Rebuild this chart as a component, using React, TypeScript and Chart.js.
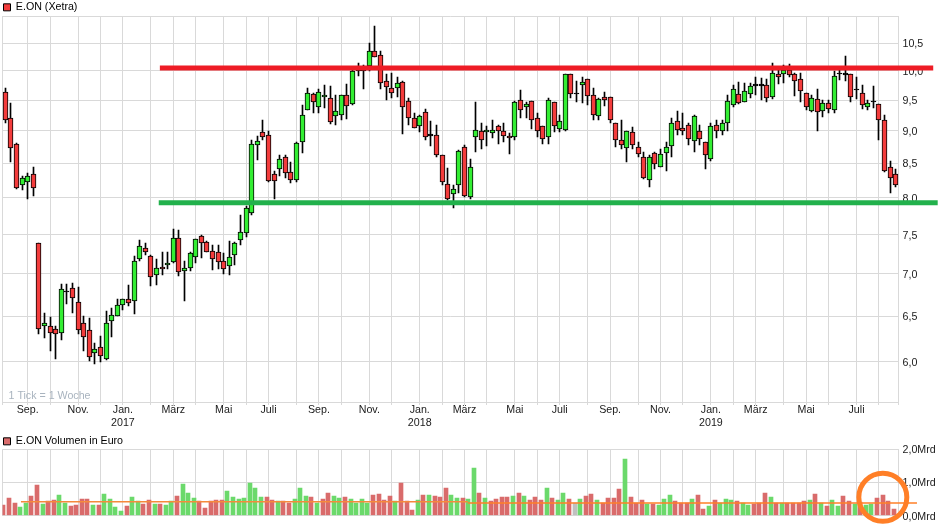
import { useEffect, useRef } from "react";
import { Chart, registerables } from "chart.js";

Chart.register(...registerables);

// weekly candles
const opens = [
  9.64, 9.21, 8.79, 8.18, 8.23, 8.34, 7.39, 6.39, 6.39, 6.36,
  6.31, 6.78, 6.83, 6.66, 6.42, 6.34, 6.09, 6.16, 6.03, 6.45,
  6.50, 6.63, 6.70, 6.68, 7.19, 7.32, 7.22, 6.99, 7.08, 7.11,
  7.15, 7.46, 7.03, 7.07, 7.21, 7.48, 7.40, 7.29, 7.27, 7.16,
  7.10, 7.24, 7.43, 7.52, 7.79, 8.78, 8.98, 8.93, 8.34, 8.41,
  8.59, 8.37, 8.26, 8.83, 9.33, 9.60, 9.39, 9.55, 9.53, 9.23,
  9.26, 9.58, 9.43, 10.00, 10.00, 10.09, 10.36, 10.29, 9.83, 9.70,
  9.70, 9.80, 9.48, 9.21, 9.08, 9.30, 8.92, 8.93, 8.62, 8.20,
  8.05, 8.18, 8.74, 8.01, 8.90, 8.99, 8.98, 8.96, 9.07, 8.99,
  8.92, 8.91, 9.50, 9.38, 9.48, 9.21, 9.08, 8.91, 9.46, 9.03,
  9.02, 9.95, 9.60, 9.76, 9.85, 9.58, 9.23, 9.55, 9.55, 9.12,
  8.86, 8.73, 8.98, 8.74, 8.59, 8.26, 8.65, 8.44, 8.65, 8.76,
  9.15, 9.05, 9.10, 8.84, 8.99, 8.82, 8.56, 9.10, 9.00, 9.12,
  9.41, 9.60, 9.46, 9.60, 9.74, 9.74, 9.75, 9.55, 9.94, 9.95,
  10.01, 9.94, 9.85, 9.61, 9.32, 9.51, 9.32, 9.45, 9.33, 9.94,
  9.93, 9.94, 9.66, 9.61, 9.38, 9.46, 9.43, 9.18, 8.44, 8.34,
];
const closes = [
  9.18, 8.73, 8.14, 8.28, 8.31, 8.14, 6.35, 6.42, 6.31, 6.30,
  6.82, 6.78, 6.71, 6.34, 6.27, 6.05, 6.13, 6.06, 6.42, 6.51,
  6.63, 6.70, 6.65, 7.16, 7.35, 7.27, 6.96, 7.07, 7.06, 7.14,
  7.46, 7.02, 7.07, 7.26, 7.44, 7.39, 7.27, 7.18, 7.15, 7.06,
  7.21, 7.39, 7.53, 7.86, 8.79, 8.84, 8.90, 8.24, 8.24, 8.56,
  8.35, 8.26, 8.81, 9.25, 9.61, 9.46, 9.63, 9.58, 9.14, 9.32,
  9.58, 9.40, 9.99, 10.00, 10.00, 10.36, 10.25, 9.79, 9.72, 9.61,
  9.79, 9.38, 9.21, 9.05, 9.23, 8.90, 8.92, 8.62, 8.23, 7.98,
  8.13, 8.68, 8.02, 8.44, 9.02, 8.86, 9.02, 9.02, 8.99, 8.92,
  8.88, 9.46, 9.33, 9.43, 9.17, 9.00, 8.87, 9.50, 9.08, 9.15,
  9.94, 9.60, 9.60, 9.80, 9.56, 9.25, 9.51, 9.50, 9.18, 8.86,
  8.78, 8.99, 8.78, 8.64, 8.29, 8.59, 8.49, 8.64, 8.74, 9.13,
  9.02, 9.00, 8.87, 9.23, 8.87, 8.62, 9.08, 9.00, 9.13, 9.48,
  9.68, 9.45, 9.65, 9.73, 9.74, 9.74, 9.53, 9.97, 9.90, 10.01,
  9.92, 9.83, 9.65, 9.38, 9.53, 9.30, 9.45, 9.35, 9.91, 9.94,
  9.93, 9.55, 9.66, 9.41, 9.45, 9.46, 9.18, 8.39, 8.29, 8.18,
];
const highs = [
  9.70, 9.45, 8.81, 8.32, 8.35, 8.44, 7.39, 6.53, 6.49, 6.39,
  6.88, 6.88, 6.89, 6.84, 6.50, 6.48, 6.20, 6.28, 6.56, 6.59,
  6.70, 6.70, 6.87, 7.22, 7.43, 7.39, 7.23, 7.19, 7.27, 7.28,
  7.58, 7.56, 7.16, 7.27, 7.44, 7.49, 7.41, 7.37, 7.37, 7.26,
  7.41, 7.40, 7.76, 7.89, 8.86, 8.92, 9.17, 9.00, 8.39, 8.63,
  8.63, 8.52, 8.83, 9.41, 9.71, 9.62, 9.68, 9.75, 9.74, 9.58,
  9.58, 9.77, 10.01, 10.13, 10.11, 10.50, 10.82, 10.36, 9.95, 9.97,
  9.89, 9.82, 9.53, 9.28, 9.26, 9.35, 9.15, 9.10, 8.62, 8.43,
  8.18, 8.70, 8.78, 8.56, 9.46, 9.13, 9.07, 9.17, 9.10, 9.13,
  8.97, 9.48, 9.67, 9.47, 9.48, 9.28, 9.08, 9.53, 9.46, 9.25,
  9.94, 9.95, 9.82, 9.89, 9.85, 9.71, 9.53, 9.63, 9.55, 9.12,
  9.17, 8.99, 9.06, 8.82, 8.67, 8.62, 8.67, 8.71, 8.82, 9.21,
  9.32, 9.28, 9.13, 9.26, 9.10, 8.82, 9.13, 9.18, 9.17, 9.58,
  9.75, 9.80, 9.79, 9.79, 9.89, 9.87, 9.85, 10.14, 10.01, 10.11,
  10.12, 9.96, 9.97, 9.61, 9.58, 9.68, 9.50, 9.50, 10.00, 10.01,
  10.26, 9.94, 9.89, 9.75, 9.50, 9.73, 9.43, 9.26, 8.54, 8.41,
];
const lows = [
  9.12, 8.52, 8.13, 8.11, 7.98, 8.03, 6.30, 6.26, 6.11, 6.03,
  6.23, 6.64, 6.54, 6.30, 6.11, 6.01, 5.98, 6.00, 6.02, 6.27,
  6.50, 6.57, 6.62, 6.52, 7.16, 7.23, 6.85, 6.87, 6.99, 7.06,
  7.14, 6.97, 6.68, 7.03, 7.13, 7.20, 7.27, 7.05, 7.06, 7.00,
  6.99, 7.11, 7.36, 7.47, 7.76, 8.55, 8.85, 8.23, 7.99, 8.32,
  8.29, 8.21, 8.23, 8.66, 9.33, 9.29, 9.28, 9.36, 9.11, 9.09,
  9.18, 9.19, 9.42, 9.91, 9.69, 10.00, 10.25, 9.69, 9.50, 9.53,
  9.55, 8.95, 9.09, 9.05, 8.98, 8.85, 8.77, 8.59, 8.19, 7.97,
  7.86, 8.07, 8.01, 7.99, 8.67, 8.71, 8.76, 8.89, 8.79, 8.83,
  8.64, 8.85, 9.21, 9.21, 9.03, 8.90, 8.79, 8.80, 8.98, 8.98,
  9.00, 9.54, 9.46, 9.45, 9.42, 9.18, 9.18, 9.40, 9.13, 8.74,
  8.71, 8.52, 8.72, 8.60, 8.27, 8.16, 8.42, 8.44, 8.39, 8.60,
  8.93, 8.93, 8.78, 8.67, 8.78, 8.41, 8.53, 8.88, 8.94, 8.99,
  9.38, 9.43, 9.46, 9.53, 9.58, 9.50, 9.47, 9.51, 9.77, 9.79,
  9.89, 9.57, 9.47, 9.33, 9.30, 9.00, 9.22, 9.28, 9.28, 9.84,
  9.82, 9.47, 9.51, 9.35, 9.33, 9.37, 8.85, 8.37, 8.07, 8.15,
];

// Mrd Euro per week
const volumes = [
  0.32, 0.52, 0.38, 0.26, 0.38, 0.58, 0.91, 0.35, 0.43, 0.47,
  0.61, 0.38, 0.29, 0.32, 0.50, 0.50, 0.32, 0.32, 0.64, 0.50,
  0.26, 0.14, 0.29, 0.55, 0.43, 0.35, 0.47, 0.35, 0.35, 0.32,
  0.43, 0.58, 0.94, 0.67, 0.52, 0.43, 0.23, 0.43, 0.47, 0.47,
  0.73, 0.55, 0.50, 0.52, 0.97, 0.82, 0.55, 0.55, 0.47, 0.43,
  0.43, 0.38, 0.50, 0.82, 0.58, 0.55, 0.38, 0.50, 0.67, 0.58,
  0.52, 0.55, 0.50, 0.38, 0.50, 0.38, 0.61, 0.64, 0.47, 0.58,
  0.43, 0.97, 0.43, 0.17, 0.47, 0.61, 0.61, 0.58, 0.55, 0.82,
  0.61, 0.52, 0.52, 0.50, 1.45, 0.67, 0.52, 0.44, 0.50, 0.55,
  0.55, 0.58, 0.67, 0.58, 0.47, 0.55, 0.47, 0.82, 0.52, 0.47,
  0.67, 0.50, 0.38, 0.50, 0.58, 0.64, 0.47, 0.38, 0.52, 0.52,
  0.79, 1.71, 0.55, 0.38, 0.47, 0.35, 0.35, 0.32, 0.50, 0.61,
  0.44, 0.38, 0.38, 0.50, 0.61, 0.20, 0.29, 0.47, 0.38, 0.50,
  0.47, 0.44, 0.38, 0.32, 0.35, 0.38, 0.67, 0.55, 0.38, 0.38,
  0.38, 0.38, 0.38, 0.44, 0.47, 0.64, 0.38, 0.29, 0.47, 0.29,
  0.58, 0.44, 0.35, 0.41, 0.32, 0.35, 0.52, 0.61, 0.44, 0.20,
];
// r = down week, g = up week, n = unchanged
const volumeDirections =
  "rrrggrrgrr" + "ggrrrrgrgg" + "ggrggrrgrg" + "grgggrrrrr" + "gggggggrrg" +
  "rrgggrgrrg" + "grggggrrrr" + "grrrgrgrrr" + "ggrggrgrrr" + "rgrgrrrgrg" +
  "grngrrgrrr" + "rgrrrgrggg" + "rrrgrrgrgg" + "grggrrrgrg" + "rrrrgrgrgg" +
  "rrgrggrrrr";

const monthWeeks = [
  4, 8, 13, 17, 21, 26, 30, 34, 39, 43, 47, 52, 56, 60, 65, 69, 74, 78, 82, 86, 91,
  95, 99, 104, 108, 113, 117, 121, 126, 130, 134, 139, 143, 147, 152, 156,
];
const labelWeeks = [4, 13, 21, 30, 39, 47, 56, 65, 74, 82, 91, 99, 108, 117, 126, 134, 143, 152];
const labelTexts = [
  ["Sep."], ["Nov."], ["Jan.", "2017"], ["März"], ["Mai"], ["Juli"],
  ["Sep."], ["Nov."], ["Jan.", "2018"], ["März"], ["Mai"], ["Juli"],
  ["Sep."], ["Nov."], ["Jan.", "2019"], ["März"], ["Mai"], ["Juli"],
];
const priceTicks = [6, 6.5, 7, 7.5, 8, 8.5, 9, 9.5, 10, 10.5];
const volumeTicks = [0, 1, 2];

// hand drawn lines on top of the chart, x in weeks
const resistancePrice = 10.05;
const resistanceWeeks = [28.1, 166.2];
const supportPrice = 7.93;
const supportWeeks = [27.9, 167];
const avgVolumeEarly = [0.42, 0.42];
const avgVolumeEarlyWeeks = [3.3, 83.1];
const avgVolumeLate = [0.383, 0.383];
const avgVolumeLateWeeks = [83.1, 163.3];
const circleWeek = 157.2;
const circleVolume = 0.555;

const FONT = { family: "'Liberation Sans', Arial, sans-serif", size: 10.67 };
const GRID = "#d9d9d9";
const TEXT = "#1a1a1a";
const WEEKS = opens.length;
const weekLabels = opens.map((_, i) => String(i));

const directionColors: Record<string, string> = { r: "#d96b6b", g: "#6bd96b", n: "#c0c0c0" };

function candleColor(i: number) {
  if (closes[i] > opens[i]) return "#33ee33";
  if (closes[i] < opens[i]) return "#f33c3c";
  return "#000000";
}

// the original is drawn on whole pixels, so snap the bars instead of blurring them
const snapBars = {
  id: "snapBars",
  afterDatasetsUpdate(chart: Chart) {
    chart.getSortedVisibleDatasetMetas().forEach((meta) => {
      if (meta.type !== "bar") return;
      meta.data.forEach((el: any) => {
        el.x = Math.round(el.width) % 2 ? Math.floor(el.x) + 0.5 : Math.round(el.x);
        el.y = Math.round(el.y);
        el.base = Math.round(el.base);
      });
    });
  },
};

const tickNote = {
  id: "tickNote",
  afterDraw(chart: Chart) {
    const { ctx, chartArea } = chart;
    ctx.save();
    ctx.font = `${FONT.size}px ${FONT.family}`;
    ctx.fillStyle = "#a9b4bf";
    ctx.textBaseline = "middle";
    ctx.fillText("1 Tick = 1 Woche", chartArea.left + 6, chartArea.bottom - 6);
    ctx.restore();
  },
};

function legendOptions(text: string, fill: string, maxHeight: number) {
  return {
    display: true,
    position: "top" as const,
    align: "start" as const,
    maxHeight,
    labels: {
      boxWidth: 7,
      boxHeight: 7,
      padding: 1,
      font: FONT,
      color: TEXT,
      generateLabels: () => [{ text, fillStyle: fill, strokeStyle: "#000000", lineWidth: 1, datasetIndex: 0 }],
    },
  };
}

function monthAxis(height: number, tickLength: number) {
  return {
    type: "category" as const,
    offset: true,
    afterBuildTicks: (scale: any) => {
      scale.ticks = [-0.5, ...monthWeeks, WEEKS - 0.5].map((value) => ({ value }));
    },
    afterFit: (scale: any) => {
      scale.height = height;
    },
    ticks: {
      autoSkip: false,
      maxRotation: 0,
      padding: -1,
      font: FONT,
      color: TEXT,
      callback: (value: any) => {
        const at = labelWeeks.indexOf(value);
        return at < 0 ? "" : labelTexts[at];
      },
    },
    grid: { offset: false, color: GRID, tickColor: GRID, tickLength },
    border: { color: GRID },
  };
}

const weekAxis = { type: "linear" as const, display: false, offset: false, min: 0, max: WEEKS };

function pairLine(label: string, weeks: number[], values: number[], color: string, width: number, yAxisID: string) {
  return {
    type: "line" as const,
    label,
    data: weeks.map((x, i) => ({ x, y: values[i] })),
    xAxisID: "xWeek",
    yAxisID,
    borderColor: color,
    borderWidth: width,
    pointRadius: 0,
    clip: false as const,
    order: 1,
  };
}

function PriceChart() {
  const canvasRef = useRef<HTMLCanvasElement>(null);

  useEffect(() => {
    if (!canvasRef.current) return;
    const chart = new Chart(canvasRef.current, {
      type: "bar",
      data: {
        labels: weekLabels,
        datasets: [
          {
            label: "Hoch/Tief",
            data: lows.map((low, i) => [low, highs[i]]),
            backgroundColor: "#000000",
            borderWidth: 0,
            barThickness: 1,
            grouped: false,
            order: 3,
          },
          {
            label: "E.ON (Xetra)",
            data: opens.map((open, i) => [open, closes[i]]),
            backgroundColor: opens.map((_, i) => candleColor(i)),
            borderColor: "#000000",
            borderWidth: 1,
            borderSkipped: false,
            barThickness: 5,
            minBarLength: 1.5,
            grouped: false,
            order: 2,
          },
          pairLine("Widerstand", resistanceWeeks, [resistancePrice, resistancePrice], "#ee1c25", 5, "y"),
          pairLine("Unterstützung", supportWeeks, [supportPrice, supportPrice], "#22b14c", 5, "y"),
        ] as any,
      },
      plugins: [snapBars, tickNote],
      options: {
        responsive: false,
        animation: false,
        events: [],
        layout: { autoPadding: false, padding: { left: 2.5, top: 1 } },
        plugins: {
          legend: legendOptions("E.ON (Xetra)", "#f33c3c", 15),
          tooltip: { enabled: false },
        },
        scales: {
          x: monthAxis(28, 3),
          xWeek: weekAxis,
          y: {
            type: "logarithmic",
            position: "right",
            min: 5.59,
            max: 11.01,
            afterBuildTicks: (scale: any) => {
              scale.ticks = [5.59, ...priceTicks, 11.01].map((value) => ({ value }));
            },
            afterFit: (scale: any) => {
              scale.width = 41.5;
            },
            ticks: {
              padding: 4,
              labelOffset: 1,
              font: FONT,
              color: TEXT,
              callback: (value: any) => (priceTicks.includes(value) ? value.toFixed(1).replace(".", ",") : ""),
            },
            grid: { color: GRID, drawTicks: false },
            border: { color: GRID },
          },
        },
      } as any,
    });
    return () => chart.destroy();
  }, []);

  return <canvas ref={canvasRef} width={940} height={430} style={{ position: "absolute", left: 0, top: 0 }} />;
}

function VolumeChart() {
  const canvasRef = useRef<HTMLCanvasElement>(null);

  useEffect(() => {
    if (!canvasRef.current) return;
    const chart = new Chart(canvasRef.current, {
      type: "bar",
      data: {
        labels: weekLabels,
        datasets: [
          {
            label: "E.ON Volumen in Euro",
            data: volumes,
            backgroundColor: volumes.map((_, i) => directionColors[volumeDirections[i]]),
            borderWidth: 0,
            barThickness: 4,
            order: 2,
          },
          pairLine("Durchschnitt", avgVolumeEarlyWeeks, avgVolumeEarly, "#f58a3c", 1.5, "y"),
          pairLine("Durchschnitt", avgVolumeLateWeeks, avgVolumeLate, "#ff7f27", 1.5, "y"),
          {
            type: "line",
            label: "Markierung",
            data: [{ x: circleWeek, y: circleVolume }],
            xAxisID: "xWeek",
            showLine: false,
            pointRadius: 24,
            pointBorderWidth: 5,
            pointBackgroundColor: "rgba(0,0,0,0)",
            pointBorderColor: "#ff7f27",
            clip: false,
            order: 0,
          },
        ] as any,
      },
      plugins: [snapBars],
      options: {
        responsive: false,
        animation: false,
        events: [],
        layout: { autoPadding: false, padding: { left: 2.5, top: 5 } },
        plugins: {
          legend: legendOptions("E.ON Volumen in Euro", "#d96b6b", 14.3),
          tooltip: { enabled: false },
        },
        scales: {
          x: { ...monthAxis(9.3, 0), ticks: { display: false } },
          xWeek: weekAxis,
          y: {
            position: "right",
            min: 0,
            max: 2,
            afterBuildTicks: (scale: any) => {
              scale.ticks = volumeTicks.map((value) => ({ value }));
            },
            afterFit: (scale: any) => {
              scale.width = 41.5;
            },
            ticks: {
              padding: 4,
              labelOffset: 1,
              font: FONT,
              color: TEXT,
              callback: (value: any) => `${value.toFixed(1).replace(".", ",")}Mrd`,
            },
            grid: { color: GRID, drawTicks: false },
            border: { color: GRID },
          },
        },
      } as any,
    });
    return () => chart.destroy();
  }, []);

  return <canvas ref={canvasRef} width={940} height={96} style={{ position: "absolute", left: 0, top: 430 }} />;
}

export default function App() {
  return (
    <div style={{ position: "absolute", left: 0, top: 0, width: 940, height: 526, background: "#ffffff", overflow: "hidden" }}>
      <PriceChart />
      <VolumeChart />
    </div>
  );
}
